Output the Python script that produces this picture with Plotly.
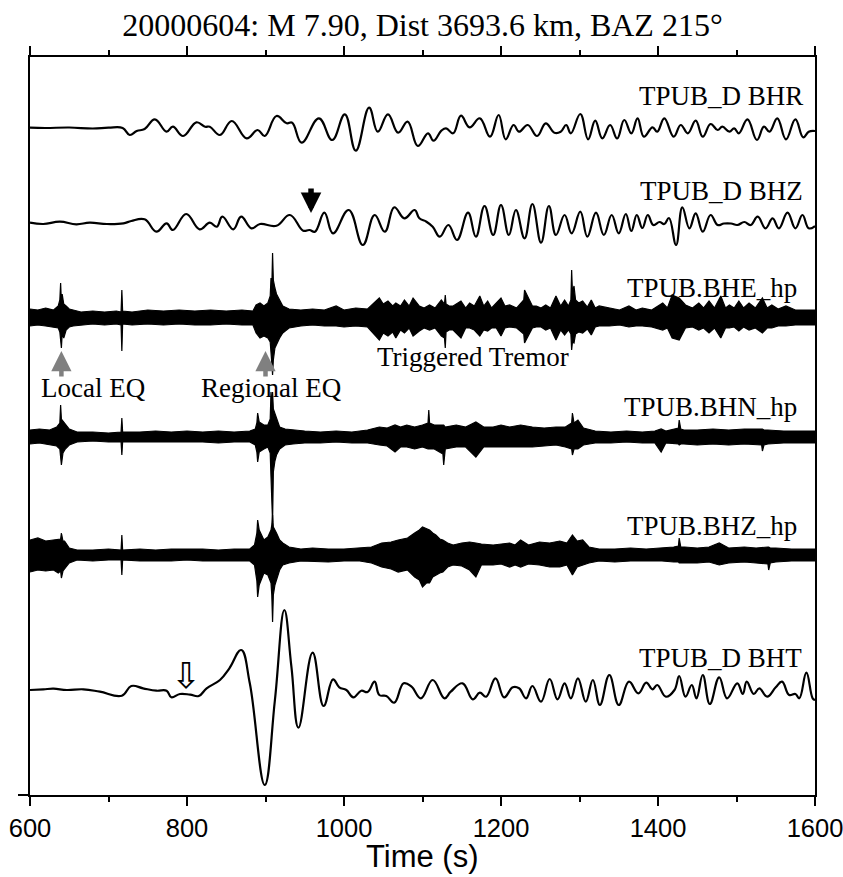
import plotly.graph_objects as go

# ---------------- data ----------------
title_text = "20000604: M 7.90, Dist 3693.6 km, BAZ 215°"
x_ticks = [600, 800, 1000, 1200, 1400, 1600]
x_minor = [700, 900, 1100, 1300, 1500]

# trace names and vertical offsets (amplitude units)
names = ["TPUB_D BHR", "TPUB_D BHZ", "TPUB.BHE_hp", "TPUB.BHN_hp", "TPUB.BHZ_hp", "TPUB_D BHT"]
offsets = [667, 572, 477, 358, 240, 105]

# long-period traces: (time s, amplitude) knots at peaks / troughs
bhr = [(600, 0.3), (620, 0), (650, 0.5), (680, -0.5), (700, 0.3), (718, 0), (727, -7), (736, -3), (746, -1),
       (759, 8.7), (774, -3.7), (782, 1.3), (795, -8), (812, 5.7), (823, 1.3), (829, 1.3), (842, -7), (857, 7),
       (876, -10.3), (890, -2), (899, -8), (914, 12), (927, 4.7), (934, 5.3), (946, -14.7), (968, 9.7),
       (985, -12), (1001, 13.7), (1015, -22.7), (1032, 20.3), (1043, -3.7), (1056, 13.7), (1069, -4.7),
       (1081, 6.3), (1094, -18), (1107, -5.3), (1114, -12.7), (1124, -2.7), (1130, -0.3), (1139, -5.3),
       (1149, 12.3), (1160, 0.7), (1173, 9.7), (1186, -8.7), (1197, 13), (1206, -11.3), (1216, 3),
       (1223, -3.7), (1234, 3), (1246, -8), (1257, 4.7), (1268, -4.7), (1276, -3.7), (1283, 3), (1289, -5.3),
       (1301, 14), (1311, -11.3), (1320, 7.3), (1329, -10.3), (1339, 3), (1348, -10.5), (1357, 8), (1366, -5.3),
       (1374, 9.7), (1382, -8.7), (1393, 0.7), (1399, -3.7), (1408, 9.7), (1420, -8.7), (1429, 3), (1438, -5.3),
       (1448, 7.3), (1457, -8.7), (1467, 4), (1476, -2), (1482, 1.3), (1491, -3.7), (1497, -0.3), (1503, -5.3),
       (1514, 8.7), (1526, -12), (1535, 1.3), (1542, -3.7), (1552, 9.7), (1563, -11.3), (1575, 8.7),
       (1585, -9.3), (1592, -3.7), (1600, -3)]

bhz = [(600, 0.3), (617, -1), (638, 1.3), (659, -1.3), (676, 0.3), (698, -1), (719, -0.3), (729, 2), (746, 3.7),
       (761, -8.7), (774, -0.3), (782, -7), (799, 9), (816, -6.3), (829, 0.3), (838, -3.7), (845, 6.3),
       (859, -6.3), (869, 6.3), (882, -5.3), (893, -1), (914, -2.7), (931, 8), (948, -7.7), (956, -7),
       (963, -8.7), (975, 10.3), (986, -10.3), (1006, 13), (1024, -22), (1039, 8), (1052, -8.7), (1064, 15.7),
       (1077, 4.7), (1090, 13), (1096, 4.7), (1105, 1.3), (1113, -3.7), (1122, -13.7), (1133, -2), (1144, -17),
       (1158, 10.3), (1168, -13.7), (1179, 17), (1190, -12), (1200, 18), (1210, -12), (1219, 13), (1230, -15.3),
       (1240, 19), (1251, -19.7), (1261, 17), (1270, -12), (1281, 8), (1290, -10.3), (1301, 11.3), (1310, -13.7),
       (1321, 10.3), (1331, -12), (1341, 8), (1350, -10.3), (1359, 9), (1366, -8), (1373, 8), (1380, -5),
       (1387, 8), (1394, -2), (1402, 1), (1408, -1), (1414, 5), (1423, -22), (1431, 15.7), (1440, -5.3),
       (1448, 9.7), (1457, -8.7), (1467, 8), (1476, -2), (1484, -0.5), (1493, -0.5), (1501, -2), (1510, 1),
       (1518, -2), (1527, 6.3), (1537, -5.3), (1546, 4.7), (1554, -5.3), (1565, 10.3), (1575, -5.3), (1584, 8),
       (1592, -5.3), (1600, -3)]

bht = [(600, 0), (617, 0.7), (630, 1.3), (647, 0), (668, 0.7), (689, -1.7), (717, -5.7), (729, 4), (744, 1.7),
       (761, -0.7), (774, -0.7), (780, -7.3), (791, -4), (804, -4.7), (815, -6), (825, 1.7), (842, 10),
       (854, 21.7), (869, 40), (880, 6.7), (899, -95), (912, -10), (924, 80), (933, 23.3), (942, -37.7),
       (960, 37.3), (974, -16), (986, 10.7), (994, 2.7), (1003, 0), (1012, -7.3), (1022, -0.7), (1030, -2),
       (1039, 8.3), (1045, -5), (1054, -6), (1064, -12.7), (1076, 6.7), (1086, 3.3), (1098, -8.3), (1113, 10),
       (1128, -8.3), (1136, -1.7), (1151, 6.7), (1164, -9.3), (1173, -2.7), (1181, -6.7), (1193, 11.7),
       (1204, -7.3), (1215, 2.7), (1223, 1.7), (1232, -8.3), (1240, 4), (1251, -11.7), (1262, 11), (1272, -9.3),
       (1281, 6.7), (1289, -8.3), (1298, 11.7), (1308, -11.7), (1317, 10), (1326, -15), (1338, 15), (1350, -15),
       (1363, 8.3), (1375, -3.3), (1385, 7.3), (1393, 0.7), (1399, 5), (1410, -6.7), (1421, 0), (1427, 14),
       (1435, -6.7), (1443, 5), (1449, -8.3), (1457, 15), (1466, -14), (1478, 12.7), (1488, -8.3), (1501, 6.7),
       (1508, -4), (1513, 8.3), (1522, -4), (1529, 1.7), (1539, -6.7), (1550, 2.7), (1558, 8.3), (1567, -5),
       (1575, -4), (1580, -8.3), (1589, 17.3), (1597, -8.3), (1600, -10)]

# high-pass traces: (time s, upper envelope, lower envelope)
bhe_hp = [(600, 9, 8), (610, 8, 7), (620, 10, 8), (630, 8, 9), (636, 12, 10), (638, 18, 14), (639, 35, 22),
          (640, 16, 30), (641, 24, 16), (643, 14, 20), (646, 12, 12), (650, 9, 9), (655, 8, 8), (665, 6, 7),
          (680, 7, 6), (695, 6, 7), (710, 7, 6), (716, 6, 7), (717, 28, 33), (718, 7, 6), (730, 6, 7),
          (750, 8, 6), (770, 7, 7), (790, 8, 6), (810, 7, 7), (830, 8, 7), (850, 7, 6), (870, 8, 7), (884, 7, 7),
          (888, 13, 15), (893, 15, 20), (898, 12, 18), (903, 15, 20), (906, 22, 24), (907, 40, 35), (908, 30, 45),
          (909, 65, 57), (910, 38, 42), (912, 30, 30), (914, 24, 26), (918, 18, 20),
          (922, 12, 15), (930, 9, 10), (945, 8, 8), (960, 9, 7), (975, 8, 8), (990, 12, 8), (1000, 8, 9),
          (1015, 10, 8), (1030, 9, 9), (1045, 20, 22), (1050, 14, 15), (1056, 17, 18), (1062, 12, 14),
          (1066, 15, 20), (1072, 12, 12), (1077, 18, 15), (1083, 12, 10), (1088, 20, 18), (1096, 12, 13),
          (1102, 10, 10), (1109, 13, 12), (1116, 10, 10), (1124, 18, 18), (1128, 14, 20), (1129, 23, 30),
          (1130, 14, 14), (1134, 12, 12), (1139, 12, 12), (1149, 17, 20), (1155, 10, 10), (1160, 15, 10),
          (1166, 12, 12), (1173, 22, 18), (1178, 12, 12), (1183, 17, 13), (1188, 10, 10), (1194, 15, 10),
          (1200, 20, 18), (1205, 12, 10), (1211, 13, 9), (1220, 10, 10), (1229, 18, 16), (1230, 28, 25),
          (1234, 22, 20), (1240, 12, 10), (1245, 12, 9), (1251, 10, 9), (1257, 13, 12), (1263, 10, 10),
          (1270, 22, 22), (1276, 12, 12), (1281, 18, 17), (1286, 12, 12), (1289, 18, 16), (1290, 48, 32),
          (1291, 26, 24), (1293, 32, 25), (1295, 18, 16), (1299, 15, 14), (1304, 17, 15), (1310, 11, 11),
          (1315, 18, 17), (1320, 10, 9), (1325, 12, 8), (1338, 10, 8), (1351, 8, 7), (1363, 12, 9), (1372, 8, 8),
          (1380, 10, 8), (1392, 8, 9), (1406, 15, 12), (1412, 10, 10), (1418, 23, 20), (1427, 20, 22),
          (1435, 13, 10), (1444, 10, 9), (1452, 15, 12), (1458, 10, 10), (1465, 17, 15), (1472, 10, 10),
          (1480, 22, 20), (1486, 10, 10), (1491, 13, 10), (1497, 10, 9), (1503, 17, 13), (1509, 10, 9),
          (1516, 15, 12), (1524, 10, 10), (1533, 20, 15), (1539, 10, 10), (1545, 13, 10), (1553, 9, 8),
          (1563, 12, 8), (1575, 8, 7), (1585, 8, 7), (1597, 8, 7), (1600, 8, 7)]

bhn_hp = [(600, 7, 7), (612, 8, 6), (625, 7, 8), (634, 10, 9), (638, 14, 12), (639, 32, 20), (640, 18, 28),
          (642, 16, 16), (645, 12, 12), (650, 8, 8), (660, 5, 5), (680, 5, 4), (700, 4, 5), (716, 5, 5),
          (717, 19, 18), (718, 5, 5), (740, 5, 5), (760, 6, 5), (780, 5, 5), (800, 6, 5), (820, 5, 5),
          (840, 6, 6), (860, 5, 5), (880, 6, 5), (887, 8, 8), (889, 14, 15), (890, 24, 25), (892, 15, 15),
          (898, 12, 12), (903, 12, 10), (906, 18, 16), (907, 45, 40), (908, 28, 50), (909, 45, 85), (910, 28, 35),
          (912, 24, 24), (914, 18, 18), (918, 10, 12), (925, 8, 8), (935, 7, 7), (950, 6, 6), (970, 5, 6),
          (990, 6, 5), (1010, 5, 6), (1030, 7, 6), (1045, 10, 8), (1055, 9, 9), (1065, 12, 15), (1072, 10, 10),
          (1080, 12, 10), (1090, 10, 12), (1100, 12, 10), (1107, 14, 12), (1108, 27, 12), (1109, 14, 12),
          (1115, 12, 12), (1126, 12, 17), (1127, 12, 28), (1129, 10, 12), (1143, 12, 10), (1155, 10, 10),
          (1168, 15, 20), (1178, 10, 10), (1190, 10, 10), (1200, 12, 10), (1211, 10, 10), (1225, 12, 10),
          (1240, 10, 10), (1255, 9, 9), (1270, 10, 8), (1282, 10, 10), (1290, 14, 12), (1291, 24, 18),
          (1293, 14, 12), (1298, 17, 12), (1305, 9, 8), (1320, 6, 6), (1340, 5, 6), (1360, 6, 5), (1380, 5, 6),
          (1396, 6, 6), (1404, 8, 15), (1410, 6, 6), (1426, 9, 7), (1427, 17, 8), (1429, 8, 7), (1433, 7, 7),
          (1450, 7, 8), (1470, 8, 7), (1490, 7, 8), (1510, 8, 7), (1532, 8, 8), (1533, 8, 14), (1535, 7, 8),
          (1540, 7, 7), (1560, 6, 6), (1580, 6, 6), (1600, 6, 6)]

bhz_hp = [(600, 15, 17), (610, 17, 15), (620, 14, 16), (630, 15, 15), (636, 15, 18), (639, 16, 16), (640, 22, 23),
          (642, 14, 16), (644, 14, 14), (650, 7, 8), (660, 5, 5), (680, 5, 6), (700, 6, 5), (716, 5, 5),
          (717, 20, 20), (718, 5, 5), (740, 6, 6), (760, 5, 6), (780, 6, 6), (800, 6, 5), (820, 6, 6),
          (840, 5, 6), (860, 6, 6), (880, 6, 6), (886, 10, 10), (889, 22, 26), (890, 35, 42), (892, 25, 30),
          (898, 15, 18), (903, 18, 20), (907, 25, 28), (908, 30, 40), (909, 40, 67), (910, 28, 40), (912, 24, 30),
          (914, 22, 26), (918, 15, 15), (922, 12, 10), (930, 8, 8), (945, 6, 6), (960, 7, 6), (980, 6, 7),
          (1000, 6, 6), (1020, 7, 6), (1035, 8, 8), (1048, 12, 12), (1060, 13, 14), (1069, 15, 17), (1081, 17, 15),
          (1090, 22, 22), (1096, 25, 25), (1100, 28, 32), (1105, 26, 28), (1109, 25, 28), (1113, 22, 22),
          (1117, 20, 20), (1122, 16, 18), (1126, 15, 17), (1132, 12, 12), (1139, 10, 10), (1150, 12, 11),
          (1160, 13, 15), (1168, 12, 22), (1175, 11, 10), (1190, 10, 10), (1200, 11, 9), (1211, 12, 12),
          (1218, 10, 10), (1225, 15, 12), (1235, 10, 9), (1249, 13, 10), (1262, 12, 12), (1275, 14, 12),
          (1284, 12, 10), (1291, 20, 20), (1297, 14, 12), (1304, 15, 10), (1312, 8, 8), (1325, 6, 6), (1345, 6, 7),
          (1365, 7, 6), (1385, 6, 6), (1405, 7, 6), (1420, 8, 7), (1426, 9, 7), (1427, 17, 8), (1429, 8, 8),
          (1434, 8, 8), (1450, 7, 8), (1465, 8, 7), (1478, 12, 10), (1490, 7, 8), (1510, 8, 7), (1525, 7, 8),
          (1540, 8, 9), (1541, 8, 15), (1543, 7, 8), (1550, 7, 7), (1570, 6, 6), (1590, 6, 6), (1600, 6, 6)]

# event markers (time s)
local_eq_t = 640
regional_eq_t = 900
arrival_bhz_t = 958
arrival_bht_t = 799
tremor_label_t = 1164

# ---------------- figure ----------------
fig = go.Figure()
serif = "Liberation Serif, Times New Roman, serif"
sans = "Liberation Sans, Arial, sans-serif"

def add_lp(data, off):
    t = [p[0] for p in data]
    a = [off + p[1] for p in data]
    fig.add_trace(go.Scatter(x=t, y=a, mode="lines", hoverinfo="skip",
                             line=dict(color="black", width=2.2, shape="spline", smoothing=1.2)))

def add_hp(data, off):
    t = [p[0] for p in data]
    up = [off + p[1] for p in data]
    dn = [off - p[2] for p in data]
    fig.add_trace(go.Scatter(x=t + t[::-1], y=up + dn[::-1], mode="lines", fill="toself",
                             fillcolor="black", hoverinfo="skip",
                             line=dict(color="black", width=1.2)))

add_lp(bhr, offsets[0])
add_lp(bhz, offsets[1])
add_hp(bhe_hp, offsets[2])
add_hp(bhn_hp, offsets[3])
add_hp(bhz_hp, offsets[4])
add_lp(bht, offsets[5])

annotations = []
label_right = [1587, 1587, 1580, 1580, 1580, 1586]
label_gap = [32, 32, 30, 30, 29, 32]
for nm, off, xr, g in zip(names, offsets, label_right, label_gap):
    annotations.append(dict(x=xr, y=off + g, xref="x", yref="y", text=nm, showarrow=False,
                            xanchor="right", yanchor="middle", font=dict(family=serif, size=27, color="black")))

annotations += [
    dict(x=681, y=offsets[2] - 70, xref="x", yref="y", text="Local EQ", showarrow=False,
         xanchor="center", yanchor="middle", font=dict(family=serif, size=27, color="black")),
    dict(x=908, y=offsets[2] - 70, xref="x", yref="y", text="Regional EQ", showarrow=False,
         xanchor="center", yanchor="middle", font=dict(family=serif, size=27, color="black")),
    dict(x=tremor_label_t, y=offsets[2] - 39, xref="x", yref="y", text="Triggered Tremor", showarrow=False,
         xanchor="center", yanchor="middle", font=dict(family=serif, size=27, color="black")),
    # gray arrows
    dict(x=local_eq_t, y=offsets[2] - 33, ax=local_eq_t, ay=offsets[2] - 60, xref="x", yref="y",
         axref="x", ayref="y", text="", showarrow=True, arrowhead=2, arrowsize=0.9, arrowwidth=4.5,
         arrowcolor="#808080"),
    dict(x=regional_eq_t, y=offsets[2] - 33, ax=regional_eq_t, ay=offsets[2] - 60, xref="x", yref="y",
         axref="x", ayref="y", text="", showarrow=True, arrowhead=2, arrowsize=0.9, arrowwidth=4.5,
         arrowcolor="#808080"),
    # black arrow on BHZ
    dict(x=arrival_bhz_t, y=offsets[1] + 10, ax=arrival_bhz_t, ay=offsets[1] + 36, xref="x", yref="y",
         axref="x", ayref="y", text="", showarrow=True, arrowhead=2, arrowsize=0.75, arrowwidth=5.5,
         arrowcolor="black"),
    # hollow arrow on BHT
    dict(x=arrival_bht_t, y=offsets[5] + 15, xref="x", yref="y", text="⇩", showarrow=False,
         xanchor="center", yanchor="middle", font=dict(family="DejaVu Sans", size=36, color="black")),
    # axis title
    dict(x=0.5, y=-0.084, xref="paper", yref="paper", text="Time (s)", showarrow=False,
         xanchor="center", yanchor="middle", font=dict(family=sans, size=31, color="black")),
]

fig.update_layout(
    width=843, height=877,
    margin=dict(l=30, r=28, t=57, b=82, autoexpand=False),
    paper_bgcolor="white", plot_bgcolor="white",
    showlegend=False,
    title=dict(text=title_text, x=0.5, xref="paper", xanchor="center",
               y=1 - 25 / 877, yref="container", yanchor="middle",
               font=dict(family=serif, size=32, color="black")),
    annotations=annotations,
    xaxis=dict(range=[600, 1600], tickvals=x_ticks, ticks="outside", ticklen=9, tickwidth=1.5,
               tickcolor="black", showline=True, linewidth=2, linecolor="black", mirror="ticks",
               showgrid=False, zeroline=False, automargin=False, ticklabeloverflow="allow",
               minor=dict(tickvals=x_minor, ticks="outside", ticklen=5, tickwidth=1.5, tickcolor="black"),
               tickfont=dict(family=sans, size=25.5, color="black")),
    yaxis=dict(range=[0, 738], tickvals=[0], ticks="outside", ticklen=10, tickwidth=2, tickcolor="black",
               showticklabels=False, showline=True, linewidth=2, linecolor="black", mirror=True,
               showgrid=False, zeroline=False, automargin=False),
)

fig.write_html("out.html")
